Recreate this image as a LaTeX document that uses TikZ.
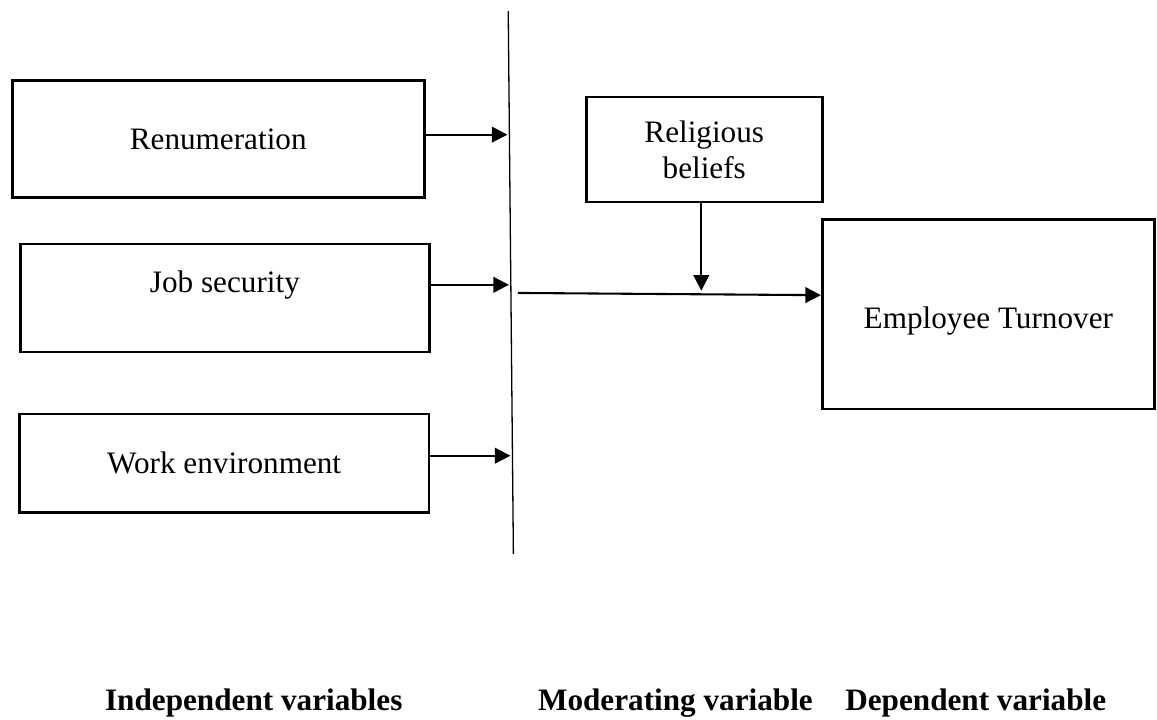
\documentclass[tikz,border=0pt]{standalone}
\usepackage{fontspec}
\setmainfont{Liberation Serif}
\usetikzlibrary{arrows.meta}
\tikzset{
  varbox/.style={draw,line width=1pt,font=\fontsize{12}{13.8}\selectfont,align=center,inner sep=2pt},
  flow/.style={line width=0.8pt,-{Triangle[length=6pt,width=6pt]}},
  heading/.style={font=\fontsize{12}{13.8}\selectfont\bfseries,anchor=base}
}
\begin{document}
\begin{tikzpicture}
%\draw[step=1cm,gray,very thin] (0,0) grid (15,9);
\useasboundingbox (0,0) rectangle (15.64,9.72);
% independent variables
\node[varbox,minimum width=5.57cm,minimum height=1.58cm] (renum) at (2.95,7.84) {Renumeration};
\node[varbox,minimum width=5.53cm,minimum height=1.46cm,text depth=12.4pt] (jobsec) at (3.04,5.69) {Job security};
\node[varbox,minimum width=5.54cm,minimum height=1.33cm] (workenv) at (3.03,3.46) {Work environment};
% moderating and dependent variables
\node[varbox,minimum width=3.19cm,minimum height=1.42cm] (relig) at (9.52,7.70) {Religious\\beliefs};
\node[varbox,minimum width=4.49cm,minimum height=2.56cm,text height=13.6pt] (emp) at (13.36,5.47) {Employee Turnover};
% dividing line
\coordinate (vtop) at (6.87,9.57);
\coordinate (vbot) at (6.94,2.23);
\draw[line width=0.5pt] (vtop) -- (vbot);
\coordinate (r1) at (6.86,7.90);
\coordinate (r2) at (6.88,5.87);
\coordinate (r3) at (6.90,3.56);
\draw[flow] (renum.east |- r1) -- (r1);
\draw[flow] (jobsec.east |- r2) -- (r2);
\draw[flow] (workenv.east |- r3) -- (r3);
\coordinate (mstart) at (7.00,5.76);
\coordinate (mend) at (11.11,5.73);
\draw[flow] (mstart) -- (emp.west |- mend);
\coordinate (mjoin) at (9.48,5.79);
\draw[flow] (relig.south -| mjoin) -- (mjoin);
% headings
\node[heading] (indep) at (3.43,0.11) {Independent variables};
\node[heading] (moder) at (9.13,0.11) {Moderating variable};
\node[heading] (depend) at (13.19,0.11) {Dependent variable};
\end{tikzpicture}
\end{document}
